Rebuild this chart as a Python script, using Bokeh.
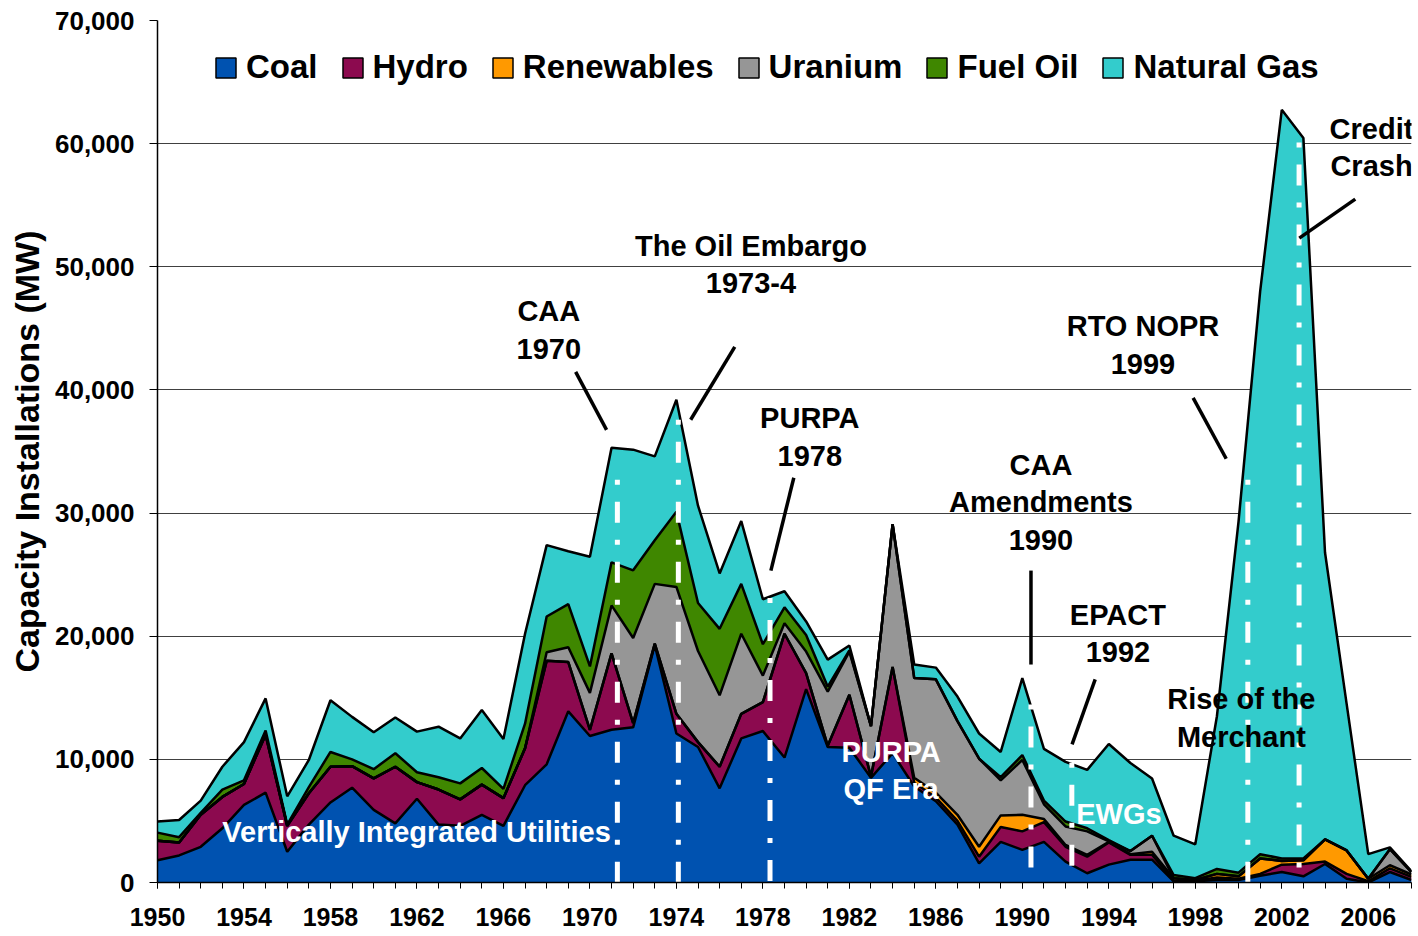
import numpy as np
from bokeh.plotting import figure
from bokeh.models import (ColumnDataSource, Legend, LegendItem, Label, FixedTicker,
                          NumeralTickFormatter, Range1d)
from bokeh.embed import file_html
from bokeh.resources import INLINE

# ---------------- data ----------------
years = list(range(1950, 2009))
coal = [1800, 2200, 2900, 4400, 6300, 7300, 2500, 4700, 6500, 7700,
        5900, 4800, 6800, 4700, 4600, 5500, 4600, 7900, 9600, 13900,
        11900, 12400, 12600, 19300, 12100, 11000, 7650, 11700, 12300, 10150,
        15700, 11000, 10950, 8500, 10500, 7800, 6600, 4700, 1550, 3300,
        2650, 3300, 1700, 750, 1450, 1850, 1850, 100, 100, 200,
        200, 550, 850, 500, 1500, 300, 0, 850, 200]
hydro = [1600, 1050, 2600, 2550, 1700, 4700, 2100, 2550, 2900, 1750,
         2550, 4600, 1350, 2850, 2150, 2450, 2250, 3000, 8400, 4000,
         500, 6200, 350, 100, 1600, 400, 1750, 2000, 2350, 10050,
         1300, 100, 4300, 100, 7000, 300, 300, 300, 550, 1200,
         1500, 1600, 1200, 1350, 1800, 400, 400, 50, 50, 200,
         100, 150, 600, 1000, 200, 400, 100, 300, 250]
renewables = [0, 0, 0, 0, 0, 0, 0, 0, 0, 0,
              0, 0, 0, 0, 0, 0, 0, 0, 0, 0,
              0, 0, 0, 0, 0, 0, 0, 0, 0, 0,
              0, 0, 0, 0, 0, 400, 400, 500, 800, 950,
              1350, 250, 150, 150, 50, 50, 250, 200, 50, 300,
              200, 1250, 300, 300, 1800, 1900, 200, 250, 200]
uranium = [0, 0, 0, 0, 0, 0, 0, 0, 0, 0,
           0, 0, 0, 0, 0, 0, 0, 0, 700, 1200,
           3000, 3900, 6900, 4850, 10300, 7400, 5800, 6500, 2150, 850,
           1750, 4400, 3500, 4100, 11600, 8100, 9200, 7600, 7150, 2850,
           4450, 1200, 1500, 1900, 50, 250, 1300, 0, 0, 0,
           0, 0, 0, 0, 0, 0, 0, 1300, 200]
fuel_oil = [650, 430, 150, 600, 300, 350, 100, 500, 1200, 550,
            750, 1100, 800, 1000, 1300, 1350, 750, 2000, 2900, 3500,
            2150, 3500, 5500, 3550, 6100, 3900, 5400, 4050, 2550, 1300,
            1350, 400, 100, 0, 0, 0, 0, 0, 0, 250,
            400, 300, 400, 250, 100, 0, 0, 250, 150, 400,
            300, 350, 200, 150, 0, 0, 0, 0, 0]
natural_gas = [900, 1400, 1000, 1850, 3100, 2600, 2300, 2200, 4200, 3450,
               3000, 2900, 3300, 4100, 3650, 4700, 4050, 7300, 5800, 4300,
               8900, 9300, 9800, 6800, 9100, 7900, 4500, 5100, 3650, 1300,
               1100, 2200, 400, 0, 0, 1100, 950, 2000, 2050, 2050,
               6250, 4200, 4850, 4750, 7800, 7150, 4650, 3200, 2750, 12400,
               28500, 45700, 60800, 58500, 23300, 11900, 2000, 150, 50]

series_names = ["Coal", "Hydro", "Renewables", "Uranium", "Fuel Oil", "Natural Gas"]
series_keys = ["coal", "hydro", "renewables", "uranium", "fuel_oil", "natural_gas"]
colors = ["#0052B0", "#8C0A4F", "#FF9900", "#969696", "#3F8700", "#33CCCC"]

x_tick_years = list(range(1950, 2007, 4))
y_ticks = list(range(0, 70001, 10000))

# event markers (dashed white lines) and annotation texts
event_x = [1971.27, 1974.09, 1978.33, 1990.40, 1992.29, 2000.43, 2002.80]
event_top = [32700, 37570, 23100, 14450, 9730, 32700, 60100]

lead_x0 = [1969.34, 1976.70, 1979.43, 1990.40, 1993.37, 1997.90, 2005.40]
lead_y0 = [41470, 43500, 32870, 25330, 16490, 39360, 55490]
lead_x1 = [1970.77, 1974.66, 1978.37, 1990.40, 1992.30, 1999.43, 2002.81]
lead_y1 = [36760, 37580, 25330, 17700, 11220, 34410, 52330]

ann_text = ["CAA", "1970", "The Oil Embargo", "1973-4", "PURPA", "1978",
            "CAA", "Amendments", "1990", "EPACT", "1992", "RTO NOPR", "1999",
            "Credit", "Crash", "Rise of the", "Merchant"]
ann_x = [1968.1, 1968.1, 1977.45, 1977.45, 1980.17, 1980.17,
         1990.86, 1990.86, 1990.86, 1994.42, 1994.42, 1995.58, 1995.58,
         2006.15, 2006.15, 2000.13, 2000.13]
ann_y = [46420, 43340, 51680, 48680, 37740, 34660,
         33890, 30890, 27810, 21760, 18680, 45200, 42120,
         61170, 58170, 14870, 11790]

white_text = ["PURPA", "QF Era", "EWGs"]
white_x = [1983.93, 1983.93, 1994.47]
white_y = [10570, 7570, 5540]
era_text = "Vertically Integrated Utilities"
era_x = 1953.0
era_y = 4080

FONT = "Liberation Sans"

# ---------------- figure ----------------
p = figure(width=1418, height=936, x_range=Range1d(1950, 2008), y_range=Range1d(0, 70000),
           output_backend="svg", toolbar_location=None,
           min_border_left=157, min_border_right=7, min_border_top=20, min_border_bottom=54)
p.outline_line_color = None
p.background_fill_color = "white"
p.border_fill_color = "white"

data = dict(year=years, coal=coal, hydro=hydro, renewables=renewables,
            uranium=uranium, fuel_oil=fuel_oil, natural_gas=natural_gas)
src = ColumnDataSource(data)
p.varea_stack(stackers=series_keys, x="year", color=colors, source=src)

cum = np.zeros(len(years))
for k in series_keys:
    cum = cum + np.array(data[k], dtype=float)
    p.line(years, cum.copy(), line_color="black", line_width=2.5)

# text inside areas
p.add_layout(Label(x=era_x, y=era_y, text=era_text, text_align="left", text_baseline="middle",
                   text_color="white", text_font=FONT, text_font_style="bold",
                   text_font_size="29px"))
for t, xx, yy in zip(white_text, white_x, white_y):
    p.add_layout(Label(x=xx, y=yy, text=t, text_align="center", text_baseline="middle",
                       text_color="white", text_font=FONT, text_font_style="bold",
                       text_font_size="29px"))

# dashed event lines
ev = ColumnDataSource(dict(x=event_x, top=event_top, bottom=[0] * len(event_x)))
p.segment(x0="x", y0="top", x1="x", y1="bottom", source=ev, line_color="white",
          line_width=5, line_dash="5 17 21 17")

# leader lines
ld = ColumnDataSource(dict(x0=lead_x0, y0=lead_y0, x1=lead_x1, y1=lead_y1))
p.segment(x0="x0", y0="y0", x1="x1", y1="y1", source=ld, line_color="black", line_width=3.5)

for t, xx, yy in zip(ann_text, ann_x, ann_y):
    p.add_layout(Label(x=xx, y=yy, text=t, text_align="center", text_baseline="middle",
                       text_color="black", text_font=FONT, text_font_style="bold",
                       text_font_size="29px"))

# legend (proxy renderers, drawn nowhere, give black-outlined squares)
items = []
for name, c in zip(series_names, colors):
    r = p.quad(left=[np.nan], right=[np.nan], top=[np.nan], bottom=[np.nan],
               fill_color=c, line_color="black", line_width=1.5)
    items.append(LegendItem(label=name, renderers=[r]))
legend = Legend(items=items, orientation="horizontal", location=(56, 796),
                border_line_color=None, background_fill_alpha=0, padding=0, margin=0,
                spacing=22, label_standoff=8, glyph_width=25, glyph_height=25,
                label_text_font=FONT, label_text_font_style="bold",
                label_text_font_size="33px", label_text_color="black")
p.add_layout(legend)

# axes
p.xaxis.ticker = FixedTicker(ticks=x_tick_years, minor_ticks=years)
p.xaxis.major_tick_out = 6
p.xaxis.major_tick_in = 0
p.xaxis.minor_tick_out = 6
p.xaxis.minor_tick_in = 0
p.xaxis.major_label_standoff = 19
p.xaxis.major_label_text_font = FONT
p.xaxis.major_label_text_font_style = "bold"
p.xaxis.major_label_text_font_size = "25px"
p.xaxis.major_label_text_color = "black"
p.xaxis.axis_line_color = "black"
p.xaxis.axis_line_width = 1.5

p.yaxis.ticker = FixedTicker(ticks=y_ticks)
p.yaxis.formatter = NumeralTickFormatter(format="0,0")
p.yaxis.major_tick_out = 8
p.yaxis.major_tick_in = 0
p.yaxis.minor_tick_line_color = None
p.yaxis.major_label_standoff = 15
p.yaxis.major_label_text_font = FONT
p.yaxis.major_label_text_font_style = "bold"
p.yaxis.major_label_text_font_size = "26px"
p.yaxis.major_label_text_color = "black"
p.yaxis.axis_line_color = "black"
p.yaxis.axis_line_width = 1.5
p.yaxis.axis_label = "Capacity Installations (MW)"
p.yaxis.axis_label_text_font = FONT
p.yaxis.axis_label_text_font_style = "bold"
p.yaxis.axis_label_text_font_size = "34px"
p.yaxis.axis_label_text_color = "black"
p.yaxis.axis_label_standoff = 6

p.xgrid.grid_line_color = None
p.ygrid.ticker = FixedTicker(ticks=y_ticks)
p.ygrid.grid_line_color = "#404040"
p.ygrid.grid_line_width = 1

open("out.html", "w").write(file_html(p, INLINE))
